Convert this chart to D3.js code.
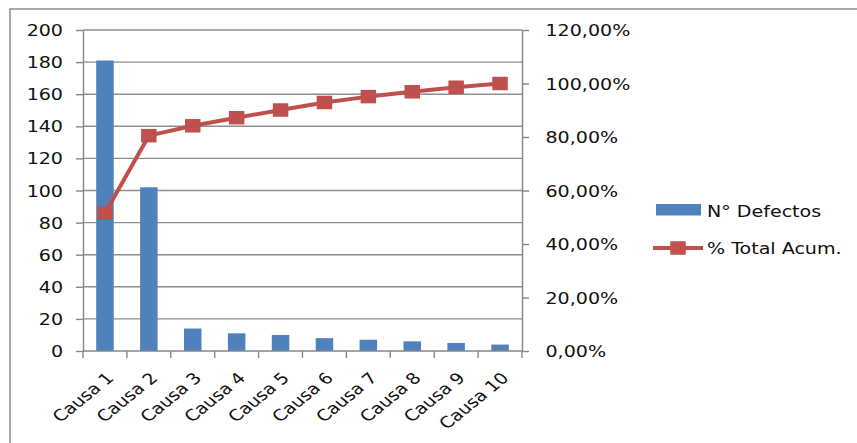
<!DOCTYPE html>
<html>
<head>
<meta charset="utf-8">
<script src="https://cdn.jsdelivr.net/npm/d3@7"></script>
<style>
  html, body { margin: 0; padding: 0; background: #fff; }
  svg { display: block; }
  text { font-family: "DejaVu Sans", Verdana, sans-serif; fill: #111; }
</style>
</head>
<body>
<svg id="chart" width="857" height="443"></svg>
<script>
const categories = ["Causa 1","Causa 2","Causa 3","Causa 4","Causa 5","Causa 6","Causa 7","Causa 8","Causa 9","Causa 10"];
const defectos = [181, 102, 14, 11, 10, 8, 7, 6, 5, 4];
const acumulado = [0.515, 0.805, 0.842, 0.872, 0.901, 0.929, 0.951, 0.969, 0.986, 1.0];
const leftTicks = [0, 20, 40, 60, 80, 100, 120, 140, 160, 180, 200];
const rightTicks = [0, 0.2, 0.4, 0.6, 0.8, 1.0, 1.2];
const rightTickLabels = ["0,00%", "20,00%", "40,00%", "60,00%", "80,00%", "100,00%", "120,00%"];
const seriesNames = ["N° Defectos", "% Total Acum."];

const W = 857, H = 443;
const plot = { left: 83, right: 522, top: 30, bottom: 351 };
const SX = 1.23;           // horizontal stretch of the picture
const FS = 15.5;
const barColor = "#4F81BD", lineColor = "#C0504D", gridColor = "#8e8e8e", axisColor = "#868686";

const svg = d3.select("#chart");

// outer border
svg.append("rect").attr("x", 10).attr("y", 9).attr("width", 900).attr("height", 500)
  .attr("fill", "none").attr("stroke", "#8a8a8a").attr("stroke-width", 1.5);

const x = d3.scaleBand().domain(categories).range([plot.left, plot.right]).padding(0);
const yL = d3.scaleLinear().domain([0, 200]).range([plot.bottom, plot.top]);
const yR = d3.scaleLinear().domain([0, 1.2]).range([plot.bottom, plot.top]);

// gridlines
svg.append("g").selectAll("line").data(leftTicks.filter(d => d > 0)).join("line")
  .attr("x1", plot.left).attr("x2", plot.right)
  .attr("y1", d => yL(d)).attr("y2", d => yL(d))
  .attr("stroke", gridColor).attr("stroke-width", 1.4);

// bars
const barW = 17.5;
svg.append("g").selectAll("rect").data(defectos).join("rect")
  .attr("x", (d, i) => x(categories[i]) + x.bandwidth() / 2 - barW / 2)
  .attr("width", barW)
  .attr("y", d => yL(d))
  .attr("height", d => yL(0) - yL(d))
  .attr("fill", barColor);

function styleAxis(g) {
  g.select(".domain").attr("stroke", axisColor).attr("stroke-width", 1.4);
  g.selectAll(".tick line").attr("stroke", axisColor).attr("stroke-width", 1.4);
  g.selectAll("text").attr("fill", "#111");
}

// left axis
const gL = svg.append("g").attr("transform", `translate(${plot.left},0)`)
  .call(d3.axisLeft(yL).tickValues(leftTicks).tickSize(7).tickSizeOuter(0).tickFormat(d3.format("d")));
styleAxis(gL);
gL.selectAll(".tick text").attr("x", 0).attr("dy", "0.36em")
  .attr("font-size", FS).attr("font-family", "DejaVu Sans")
  .attr("transform", `translate(-20,0) scale(${SX},1)`);

// right axis
const gR = svg.append("g").attr("transform", `translate(${plot.right},0)`)
  .call(d3.axisRight(yR).tickValues(rightTicks).tickSize(7).tickSizeOuter(0).tickFormat((d, i) => rightTickLabels[i]));
styleAxis(gR);
gR.selectAll(".tick text").attr("x", 0).attr("dy", "0.36em")
  .attr("font-size", FS).attr("font-family", "DejaVu Sans")
  .attr("text-anchor", "start")
  .attr("transform", `translate(23.5,0) scale(${SX},1)`);

// bottom axis: line + boundary ticks + rotated labels
const gB = svg.append("g").attr("transform", `translate(0,${plot.bottom})`);
gB.append("line").attr("x1", plot.left).attr("x2", plot.right).attr("y1", 0).attr("y2", 0)
  .attr("stroke", axisColor).attr("stroke-width", 1.4);
const bounds = categories.map(c => x(c)).concat([plot.right]);
gB.selectAll("line.tk").data(bounds).join("line").attr("class", "tk")
  .attr("x1", d => d).attr("x2", d => d).attr("y1", 0).attr("y2", 7)
  .attr("stroke", axisColor).attr("stroke-width", 1.4);
gB.selectAll("text").data(categories).join("text")
  .attr("text-anchor", "end").attr("dy", "0.36em")
  .attr("font-size", FS)
  .attr("transform", d => `translate(${x(d) + x.bandwidth() / 2 + 5},24) scale(${SX},1) rotate(-45)`)
  .text(d => d);

// cumulative line
const line = d3.line()
  .x((d, i) => x(categories[i]) + x.bandwidth() / 2)
  .y(d => yR(d));
svg.append("path").datum(acumulado).attr("d", line)
  .attr("fill", "none").attr("stroke", lineColor).attr("stroke-width", 4).attr("stroke-linejoin", "round");
const mW = 15.5, mH = 13.5;
svg.append("g").selectAll("rect").data(acumulado).join("rect")
  .attr("x", (d, i) => x(categories[i]) + x.bandwidth() / 2 - mW / 2)
  .attr("y", d => yR(d) - mH / 2)
  .attr("width", mW).attr("height", mH)
  .attr("fill", lineColor);

// legend
const lg = svg.append("g");
lg.append("rect").attr("x", 656).attr("y", 204).attr("width", 45).attr("height", 11.5).attr("fill", barColor);
lg.append("text").attr("font-size", FS).attr("transform", `translate(707,216.5) scale(${SX},1)`).text(seriesNames[0]);
lg.append("line").attr("x1", 653).attr("x2", 703).attr("y1", 248).attr("y2", 248)
  .attr("stroke", lineColor).attr("stroke-width", 4);
lg.append("rect").attr("x", 678 - mW / 2).attr("y", 248 - mH / 2).attr("width", mW).attr("height", mH).attr("fill", lineColor);
lg.append("text").attr("font-size", FS).attr("transform", `translate(707,254) scale(${SX},1)`).text(seriesNames[1]);
</script>
</body>
</html>
